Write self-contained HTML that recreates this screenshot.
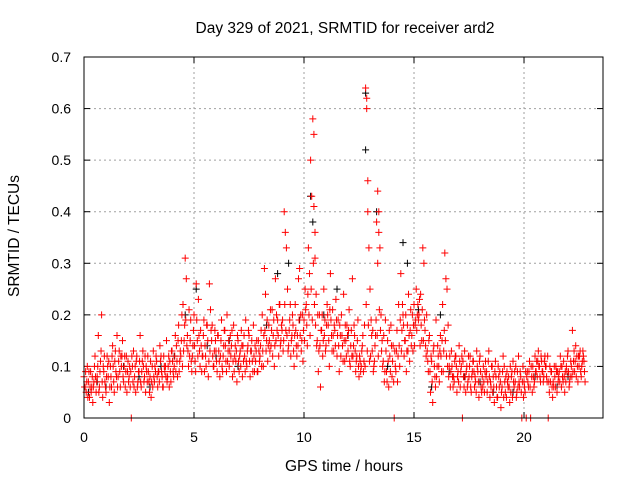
<!DOCTYPE html>
<html><head><meta charset="utf-8"><style>
html,body{margin:0;padding:0;background:#fff}
svg{display:block;font-family:"Liberation Sans",sans-serif}
</style></head><body>
<svg id="chart" width="640" height="480" viewBox="0 0 640 480" xmlns="http://www.w3.org/2000/svg">
<rect width="640" height="480" fill="#fff"/>
<text x="345" y="33" font-size="15.5" text-anchor="middle">Day 329 of 2021, SRMTID for receiver ard2</text>
<text x="344" y="471" font-size="15.5" text-anchor="middle">GPS time / hours</text>
<text transform="translate(19,236) rotate(-90)" font-size="15.5" text-anchor="middle">SRMTID / TECUs</text>
<g id="grid"></g>
<g id="ticks"></g>
<g id="black"></g>
<g id="red"></g>
<rect x="84" y="57" width="519" height="361" fill="none" stroke="#000" stroke-width="1"/>
</svg>
<script>
const xTicks=[0,5,10,15,20];
const yTicks=[0,0.1,0.2,0.3,0.4,0.5,0.6,0.7];
const yTickLabels=["0","0.1","0.2","0.3","0.4","0.5","0.6","0.7"];
const redSamples=[[0.0,.08,.06],[0.1,.05,.10],[0.2,.07,.04],[0.3,.09,.06],[0.4,.03,.07],[0.5,.12,.05],[0.6,.08,.16],[0.7,.06,.11],[0.8,.20,.04],[0.9,.09,.07],[1.0,.05,.12],[1.1,.08,.03],[1.2,.10,.06],[1.3,.14,.07],[1.4,.11,.09],[1.5,.16,.08],[1.6,.13,.06],[1.7,.10,.15],[1.8,.07,.12],[1.9,.09,.05],[2.0,.11,.08],[2.1,.06,0],[2.2,.10,.13],[2.3,.08,.05],[2.4,.12,.07],[2.5,.09,.16],[2.6,.06,.11],[2.7,.10,.08],[2.8,.05,.09],[2.9,.12,.07],[3.0,.08,.04],[3.1,.10,.13],[3.2,.07,.09],[3.3,.11,.06],[3.4,.09,.14],[3.5,.12,.08],[3.6,.06,.10],[3.7,.10,.15],[3.8,.08,.12],[3.9,.11,.07],[4.0,.13,.09],[4.1,.10,.16],[4.2,.14,.08],[4.3,.18,.11],[4.4,.12,.20],[4.5,.22,.15],[4.6,.31,.27],[4.7,.16,.10],[4.8,.12,.19],[4.9,.09,.14],[5.0,.20,.11],[5.1,.26,.15],[5.2,.23,.13],[5.3,.17,.09],[5.4,.12,.19],[5.5,.14,.10],[5.6,.18,.08],[5.7,.26,.21],[5.8,.15,.12],[5.9,.10,.17],[6.0,.13,.09],[6.1,.16,.11],[6.2,.12,.19],[6.3,.09,.14],[6.4,.17,.11],[6.5,.20,.13],[6.6,.10,.16],[6.7,.14,.08],[6.8,.18,.12],[6.9,.11,.07],[7.0,.15,.09],[7.1,.13,.17],[7.2,.08,.11],[7.3,.12,.19],[7.4,.10,.14],[7.5,.16,.08],[7.6,.13,.11],[7.7,.18,.09],[7.8,.11,.15],[7.9,.09,.13],[8.0,.12,.17],[8.1,.20,.10],[8.2,.29,.24],[8.3,.15,.11],[8.4,.18,.13],[8.5,.14,.21],[8.6,.16,.10],[8.7,.27,.20],[8.8,.19,.12],[8.9,.22,.15],[9.0,.17,.13],[9.1,.40,.36],[9.2,.33,.25],[9.3,.14,.19],[9.4,.12,.16],[9.5,.18,.10],[9.6,.22,.14],[9.7,.16,.27],[9.8,.29,.20],[9.9,.15,.11],[10.0,.19,.25],[10.1,.22,.14],[10.2,.33,.28],[10.3,.50,.43],[10.4,.58,.55],[10.45,.41,.36],[10.5,.31,.24],[10.6,.15,.09],[10.7,.20,.06],[10.8,.17,.12],[10.9,.25,.19],[11.0,.14,.22],[11.1,.18,.10],[11.2,.28,.16],[11.3,.21,.13],[11.4,.17,.23],[11.5,.12,.19],[11.6,.09,.16],[11.7,.20,.14],[11.8,.24,.11],[11.9,.15,.18],[12.0,.13,.21],[12.1,.10,.17],[12.2,.27,.14],[12.3,.16,.09],[12.4,.12,.19],[12.5,.08,.11],[12.6,.10,.14],[12.7,.09,.18],[12.8,.64,.62],[12.85,.60,.46],[12.9,.40,.33],[13.0,.25,.19],[13.1,.13,.09],[13.2,.11,.16],[13.3,.38,.30],[13.35,.44,.40],[13.4,.36,.33],[13.5,.20,.15],[13.6,.11,.07],[13.7,.19,.09],[13.8,.15,.06],[13.9,.12,.18],[14.0,.08,.14],[14.1,0,.10],[14.2,.13,.07],[14.3,.22,.10],[14.4,.28,.17],[14.5,.20,.12],[14.6,.15,.09],[14.7,.18,.24],[14.8,.11,.21],[14.9,.16,.13],[15.0,.22,.18],[15.1,.25,.20],[15.2,.19,.23],[15.3,.24,.15],[15.4,.33,.30],[15.5,.17,.12],[15.6,.13,.09],[15.7,.16,.05],[15.8,.11,.03],[15.9,.14,.08],[16.0,.19,.10],[16.1,.12,.07],[16.2,.16,.09],[16.3,.22,.13],[16.4,.32,.27],[16.5,.25,.18],[16.6,.10,.06],[16.7,.13,.08],[16.8,.08,.11],[16.9,.12,.05],[17.0,.09,.14],[17.1,.06,.10],[17.2,0,.08],[17.3,.13,.05],[17.4,.10,.07],[17.5,.08,.12],[17.6,.05,.09],[17.7,.11,.06],[17.8,.07,.13],[17.9,.09,.04],[18.0,.12,.06],[18.1,.08,.10],[18.2,.05,.11],[18.3,.09,.07],[18.4,.13,.04],[18.5,.06,.10],[18.6,.08,.03],[18.7,.11,.06],[18.8,.04,.08],[18.9,.09,.02],[19.0,.06,.12],[19.1,.10,.05],[19.2,.04,.07],[19.3,.08,.03],[19.4,.05,.09],[19.5,.11,.06],[19.6,.07,.04],[19.7,.09,.12],[19.8,.06,.08],[19.9,0,.10],[20.0,.07,.05],[20.1,0,.09],[20.2,.06,.11],[20.3,0,.08],[20.4,.10,.06],[20.5,.12,.09],[20.6,.08,.13],[20.7,.10,.07],[20.8,.11,.09],[20.9,.08,.12],[21.0,.10,.07],[21.1,0,.05],[21.2,.07,.09],[21.3,.04,.06],[21.4,.08,.10],[21.5,.05,.07],[21.6,.09,.12],[21.7,.06,.08],[21.8,.11,.05],[21.9,.07,.09],[22.0,.13,.06],[22.1,.08,.10],[22.2,.17,.11],[22.3,.09,.14],[22.4,.12,.07],[22.5,.10,.13],[22.6,.08,.11],[22.7,.12,.09]];
const redExtra=[[0.0,.06,.09],[0.1,.07,.04],[0.2,.09,.06],[0.3,.05,.08],[0.4,.06,.10],[0.5,.08,.07],[0.6,.10,.05],[0.7,.09,.13],[0.8,.07,.10],[0.9,.12,.06],[1.0,.08,.10],[1.1,.11,.06],[1.2,.08,.12],[1.3,.10,.05],[1.4,.13,.08],[1.5,.06,.11],[1.6,.09,.12],[1.7,.12,.08],[1.8,.10,.06],[1.9,.12,.09],[2.0,.07,.10],[2.1,.09,.12],[2.2,.07,.06],[2.3,.10,.11],[2.4,.06,.09],[2.5,.11,.07],[2.6,.09,.13],[2.7,.07,.12],[2.8,.10,.07],[2.9,.09,.05],[3.0,.11,.07],[3.1,.06,.08],[3.2,.10,.12],[3.3,.08,.09],[3.4,.07,.11],[3.5,.09,.06],[3.6,.12,.09],[3.7,.08,.07],[3.8,.10,.06],[3.9,.09,.13],[4.0,.11,.08],[4.1,.12,.09],[4.2,.11,.15],[4.3,.09,.13],[4.4,.15,.10],[4.5,.13,.18],[4.6,.19,.14],[4.7,.13,.21],[4.8,.15,.11],[4.9,.12,.17],[5.0,.14,.09],[5.1,.19,.12],[5.2,.16,.10],[5.3,.14,.12],[5.4,.16,.09],[5.5,.12,.18],[5.6,.15,.11],[5.7,.13,.17],[5.8,.18,.10],[5.9,.13,.15],[6.0,.11,.16],[6.1,.13,.08],[6.2,.15,.10],[6.3,.12,.17],[6.4,.14,.09],[6.5,.11,.15],[6.6,.13,.12],[6.7,.17,.11],[6.8,.09,.14],[6.9,.13,.16],[7.0,.11,.12],[7.1,.10,.14],[7.2,.14,.16],[7.3,.09,.11],[7.4,.13,.17],[7.5,.11,.13],[7.6,.15,.09],[7.7,.12,.14],[7.8,.13,.09],[7.9,.15,.11],[8.0,.14,.10],[8.1,.13,.16],[8.2,.17,.13],[8.3,.19,.14],[8.4,.15,.21],[8.5,.17,.12],[8.6,.19,.14],[8.7,.15,.17],[8.8,.16,.22],[8.9,.14,.18],[9.0,.19,.15],[9.1,.22,.17],[9.2,.16,.13],[9.3,.17,.22],[9.4,.15,.20],[9.5,.13,.16],[9.6,.17,.12],[9.7,.14,.19],[9.8,.16,.13],[9.9,.20,.17],[10.0,.15,.21],[10.1,.18,.24],[10.2,.20,.16],[10.3,.25,.19],[10.4,.30,.22],[10.5,.18,.14],[10.6,.20,.13],[10.7,.14,.17],[10.8,.20,.15],[10.9,.16,.13],[11.0,.18,.20],[11.1,.15,.21],[11.2,.19,.13],[11.3,.16,.18],[11.4,.14,.19],[11.5,.16,.14],[11.6,.18,.12],[11.7,.16,.11],[11.8,.15,.18],[11.9,.12,.16],[12.0,.17,.11],[12.1,.14,.12],[12.2,.12,.18],[12.3,.13,.11],[12.4,.15,.10],[12.5,.12,.09],[12.6,.13,.16],[12.7,.11,.10],[12.8,.22,.13],[12.9,.18,.11],[13.0,.12,.16],[13.1,.17,.10],[13.2,.14,.19],[13.3,.16,.12],[13.4,.21,.17],[13.5,.13,.10],[13.6,.16,.09],[13.7,.13,.07],[13.8,.11,.17],[13.9,.09,.14],[14.0,.11,.07],[14.1,.13,.09],[14.2,.17,.12],[14.3,.14,.19],[14.4,.13,.22],[14.5,.18,.15],[14.6,.20,.13],[14.7,.13,.16],[14.8,.17,.14],[14.9,.20,.18],[15.0,.14,.19],[15.1,.17,.22],[15.2,.20,.14],[15.3,.18,.21],[15.4,.15,.19],[15.5,.14,.20],[15.6,.11,.15],[15.7,.09,.12],[15.8,.07,.13],[15.9,.10,.06],[16.0,.08,.14],[16.1,.10,.13],[16.2,.12,.15],[16.3,.09,.17],[16.4,.15,.12],[16.5,.10,.08],[16.6,.12,.09],[16.7,.10,.06],[16.8,.07,.12],[16.9,.10,.08],[17.0,.07,.11],[17.1,.09,.12],[17.2,.11,.06],[17.3,.08,.09],[17.4,.06,.12],[17.5,.10,.06],[17.6,.08,.11],[17.7,.09,.08],[17.8,.05,.10],[17.9,.07,.11],[18.0,.09,.05],[18.1,.06,.07],[18.2,.09,.08],[18.3,.05,.11],[18.4,.08,.07],[18.5,.10,.05],[18.6,.06,.09],[18.7,.08,.04],[18.8,.10,.06],[18.9,.07,.05],[19.0,.09,.04],[19.1,.07,.08],[19.2,.09,.06],[19.3,.06,.10],[19.4,.08,.04],[19.5,.07,.09],[19.6,.10,.05],[19.7,.06,.07],[19.8,.09,.05],[19.9,.07,.04],[20.0,.06,.09],[20.1,.08,.07],[20.2,.09,.06],[20.3,.10,.05],[20.4,.08,.07],[20.5,.09,.11],[20.6,.11,.10],[20.7,.08,.12],[20.8,.09,.07],[20.9,.11,.10],[21.0,.08,.12],[21.1,.07,.10],[21.2,.09,.06],[21.3,.07,.10],[21.4,.06,.09],[21.5,.09,.08],[21.6,.07,.10],[21.7,.10,.07],[21.8,.08,.09],[21.9,.10,.12],[22.0,.09,.07],[22.1,.11,.08],[22.2,.09,.13],[22.3,.11,.08],[22.4,.10,.12],[22.5,.12,.09],[22.6,.10,.13],[22.7,.11,.07]];
const blackSamples=[[0.2,.05],[0.6,.07],[1.0,.06],[1.8,.10],[2.5,.08],[3.0,.06],[3.5,.10],[4.1,.12],[4.6,.20],[5.1,.25],[5.6,.14],[6.0,.12],[6.6,.15],[7.0,.10],[7.6,.13],[8.3,.18],[8.8,.28],[9.3,.30],[9.8,.19],[10.3,.43],[10.4,.38],[10.9,.20],[11.5,.25],[12.0,.16],[12.8,.63],[12.8,.52],[13.3,.40],[13.8,.10],[14.5,.34],[14.7,.30],[15.2,.21],[15.8,.06],[16.2,.20],[16.6,.09],[17.3,.08],[18.0,.07],[18.6,.05],[19.5,.05],[20.5,.08],[21.5,.06],[22.0,.08],[22.5,.10]];
const NS="http://www.w3.org/2000/svg";
const X0=84,X1=603,Y0=418,Y1=57,XMAX=23.59,YMAX=0.7;
function sx(t){return X0+(X1-X0)*t/XMAX;}
function sy(v){return Y0-(Y0-Y1)*v/YMAX;}
function mk(tag,attrs,parent){const e=document.createElementNS(NS,tag);for(const k in attrs)e.setAttribute(k,attrs[k]);parent.appendChild(e);return e;}
const grid=document.getElementById('grid'),ticks=document.getElementById('ticks');
xTicks.forEach(t=>{const x=sx(t);
 if(t>0){const g=mk('line',{x1:x,x2:x,y1:Y1,y2:Y0,stroke:'#a0a0a0','stroke-dasharray':'2,3'},grid);
 
 }
 mk('line',{x1:x,x2:x,y1:Y0,y2:Y0-6,stroke:'#000'},ticks);
 mk('line',{x1:x,x2:x,y1:Y1,y2:Y1+6,stroke:'#000'},ticks);
 const l=mk('text',{x:x,y:Y0+24,'font-size':14,'text-anchor':'middle'},ticks);l.textContent=t;
 
 });
yTicks.forEach((v,i)=>{const y=sy(v);
 if(v>0&&v<YMAX){const g=mk('line',{x1:X0,x2:X1,y1:y,y2:y,stroke:'#a0a0a0','stroke-dasharray':'2,3'},grid);
 
 }
 mk('line',{x1:X0,x2:X0+6,y1:y,y2:y,stroke:'#000'},ticks);
 mk('line',{x1:X1,x2:X1-6,y1:y,y2:y,stroke:'#000'},ticks);
 const l=mk('text',{x:X0-13,y:y+5,'font-size':14,'text-anchor':'end'},ticks);l.textContent=yTickLabels[i];
 
 });
function plus(g,t,v,col){const x=sx(t),y=sy(v);
 const p=mk('path',{d:`M${x-3.5},${y}h7M${x},${y-3.5}v7`,stroke:col,'stroke-width':1,fill:'none'},g);
 
 }
const bg=document.getElementById('black'),rg=document.getElementById('red');
blackSamples.forEach(s=>plus(bg,s[0],s[1],'#000'));
redSamples.forEach(s=>{plus(rg,s[0],s[1],'#f00');plus(rg,s[0]+0.05,s[2],'#f00');});
redExtra.forEach(s=>{plus(rg,s[0]+0.025,s[1],'#f00');plus(rg,s[0]+0.075,s[2],'#f00');});
</script>
</body></html>
